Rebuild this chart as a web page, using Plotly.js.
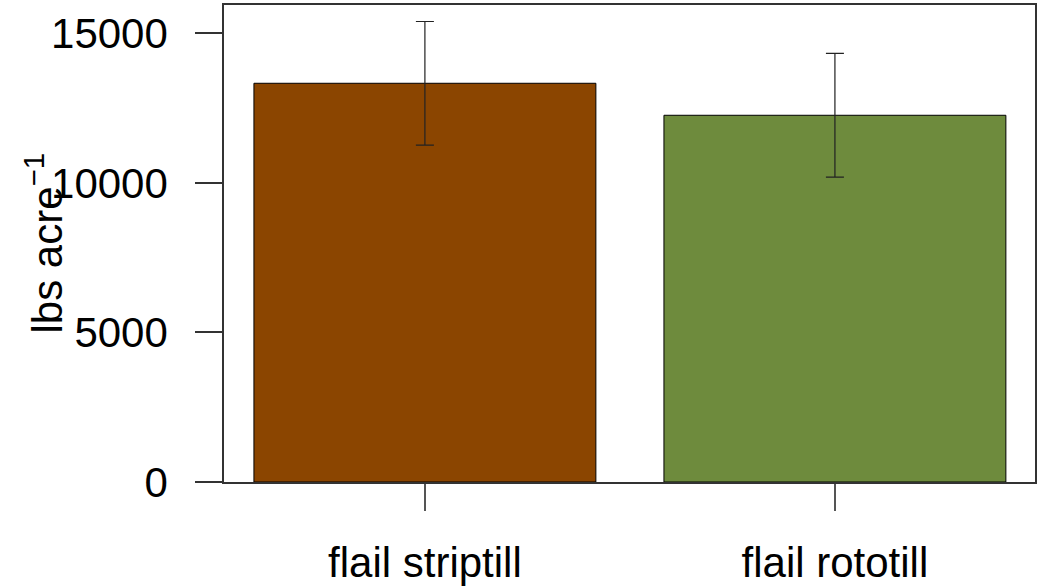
<!DOCTYPE html>
<html>
<head>
<meta charset="utf-8">
<script src="https://cdn.plot.ly/plotly-3.0.1.min.js"></script>
<style>html,body{margin:0;padding:0;background:#fff;}#chart{width:1039px;height:588px;}</style>
</head>
<body>
<div id="chart"></div>
<script>
const categories = ["flail striptill", "flail rototill"];
const yieldMeans = [13330, 12260];
const yieldErrors = [2065, 2067];
const barColors = ["#8B4500", "#6E8B3D"];
const yTickVals = [0, 5000, 10000, 15000];
const yTickText = ["0", "5000", "10000", "15000"];
const yTitle = "lbs acre<sup>−1</sup>";

const trace = {
  type: "bar",
  x: categories,
  y: yieldMeans,
  width: 0.834,
  marker: {color: barColors, line: {color: "#000", width: 1}},
  error_y: {type: "data", array: yieldErrors, visible: true, color: "#222", thickness: 1.2, width: 9},
  hoverinfo: "x+y"
};

const fontFam = "Liberation Sans, Arial, sans-serif";
const layout = {
  width: 1039, height: 588,
  margin: {l: 224, r: 4, t: 5, b: 106},
  paper_bgcolor: "#fff", plot_bgcolor: "#fff",
  showlegend: false,
  font: {family: fontFam, color: "#000"},
  xaxis: {
    type: "category",
    range: [-0.49, 1.488],
    showgrid: false, zeroline: false,
    showline: true, mirror: true, linecolor: "#333", linewidth: 1.5,
    ticks: "outside", ticklen: 27, tickwidth: 1.5, tickcolor: "#555",
    tickfont: {size: 42, family: fontFam},
    ticklabelstandoff: 16
  },
  yaxis: {
    range: [0, 15947],
    tickvals: yTickVals, ticktext: yTickText,
    showgrid: false, zeroline: false,
    showline: true, mirror: true, linecolor: "#333", linewidth: 1.5,
    ticks: "outside", ticklen: 27, tickwidth: 1.5, tickcolor: "#333",
    tickfont: {size: 42, family: fontFam},
    ticklabelstandoff: 19
  },
  annotations: [{
    text: yTitle, textangle: -90,
    xref: "paper", yref: "paper", x: 0, y: 0.5,
    xanchor: "center", yanchor: "middle", xshift: -180,
    showarrow: false,
    font: {size: 42, family: fontFam, color: "#000"}
  }]
};

Plotly.newPlot("chart", [trace], layout, {displayModeBar: false});
</script>
</body>
</html>
